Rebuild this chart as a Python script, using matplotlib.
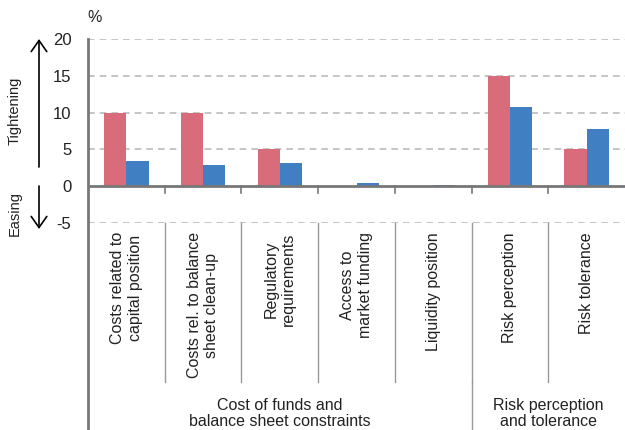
import matplotlib
matplotlib.use("Agg")
import matplotlib.pyplot as plt
import matplotlib.transforms as mtransforms
import numpy as np

plt.rcParams['font.family'] = ['Liberation Sans', 'DejaVu Sans']

categories = ["Costs related to\ncapital position",
              "Costs rel. to balance\nsheet clean-up",
              "Regulatory\nrequirements",
              "Access to\nmarket funding",
              "Liquidity position",
              "Risk perception",
              "Risk tolerance"]
series_red = [10, 10, 5, 0, 0, 15, 5]
series_blue = [3.4, 2.85, 3.15, 0.4, 0.15, 10.75, 7.8]
groups = ["Cost of funds and\nbalance sheet constraints", "Risk perception\nand tolerance"]
group_spans = [(0, 4), (5, 6)]
yticks = [-5, 0, 5, 10, 15, 20]

RED = "#D96C7A"
BLUE = "#3F7FC2"
GRAY = "#777777"
TXT = "#222222"

W, H = 625, 430
fig = plt.figure(figsize=(W / 100, H / 100), dpi=100)
ax = fig.add_axes([88 / W, 1 - 223 / H, (W - 88) / W, (223 - 39) / H])

x = np.arange(len(categories))
bw = 0.29
ax.bar(x - bw / 2, series_red, width=bw, color=RED, zorder=3)
ax.bar(x + bw / 2, series_blue, width=bw, color=BLUE, zorder=3)

ax.set_xlim(-0.5, len(categories) - 0.5)
ax.set_ylim(-5, 20)
ax.set_yticks(yticks)
ax.set_yticklabels([str(v) for v in yticks], fontsize=12, color=TXT)
ax.tick_params(axis='y', length=0, pad=12)
ax.set_xticks([])
for v in yticks:
    if v != 0:
        ax.axhline(v, color="#BBBBBB", lw=1.2, ls=(0, (4, 3)), zorder=1)
ax.axhline(0, color=GRAY, lw=2, zorder=4)

for s in ["top", "right", "bottom", "left"]:
    ax.spines[s].set_visible(False)

trans = mtransforms.blended_transform_factory(ax.transData, ax.transAxes)
# left spine extended to bottom
ax.plot([-0.5, -0.5], [1.0, -1.13], transform=trans, color=GRAY, lw=2, clip_on=False, zorder=5)

# ticks below zero line and separators between categories
for b in np.arange(0.5, len(categories) - 0.5, 1):
    ax.plot([b, b], [0, -0.9], transform=ax.transData, color=GRAY, lw=1.2, clip_on=False, zorder=4)
    ax.plot([b, b], [0.0, -0.865], transform=trans, color="#999999", lw=1.0, clip_on=False)

# group separator
ax.plot([4.5, 4.5], [-0.865, -1.13], transform=trans, color="#999999", lw=1.0, clip_on=False)

# category labels
for i, c in enumerate(categories):
    ax.text(i, -0.05, c, transform=trans, rotation=90, ha='center', va='top',
            fontsize=11.5, color=TXT, linespacing=1.2)

# group labels
for g, (a, b) in zip(groups, group_spans):
    ax.text((a + b) / 2, -1.117, g, transform=trans, ha='center', va='bottom',
            fontsize=11.5, color=TXT, linespacing=1.08)

# unit label
fig.text(95 / W, 1 - 18 / H, "%", ha='center', va='center', fontsize=11.5, color=TXT)

# Tightening / Easing
fig.text(15 / W, 1 - 111 / H, "Tightening", rotation=90, ha='center', va='center',
         fontsize=10.5, color=TXT)
fig.text(15 / W, 1 - 213 / H, "Easing", rotation=90, ha='center', va='center',
         fontsize=10.5, color=TXT)
fig.add_artist(matplotlib.patches.FancyArrowPatch(
    (39 / W, 1 - 167 / H), (39 / W, 1 - 39 / H), transform=fig.transFigure,
    arrowstyle="->,head_length=5,head_width=3.5", color="black", lw=1.2, mutation_scale=1.6,
    shrinkA=0, shrinkB=0))
fig.add_artist(matplotlib.patches.FancyArrowPatch(
    (39 / W, 1 - 186 / H), (39 / W, 1 - 229 / H), transform=fig.transFigure,
    arrowstyle="->,head_length=5,head_width=3.5", color="black", lw=1.2, mutation_scale=1.6,
    shrinkA=0, shrinkB=0))

fig.savefig("out.png", dpi=100)
